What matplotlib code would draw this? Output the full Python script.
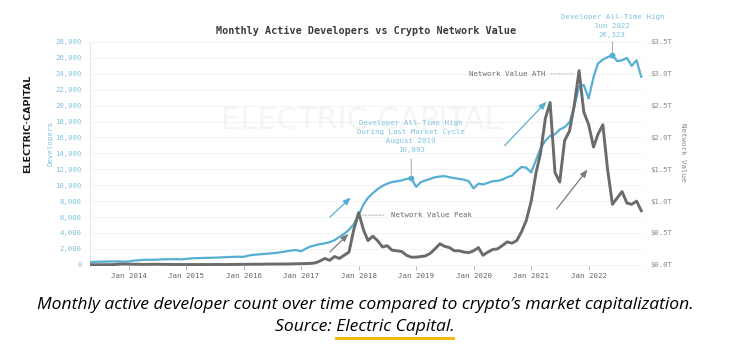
# Monthly active developers vs crypto network value (Electric Capital style)

import matplotlib.pyplot as plt
import pandas as pd

plt.rcParams['font.family'] = 'DejaVu Sans Mono'

# ---- data ----
months = pd.date_range('2013-05-01', '2022-12-01', freq='MS')

developers = [
    350, 380, 380, 400, 420, 420, 430, 400,                                   # 2013 May-Dec
    420, 520, 560, 620, 640, 620, 650, 680, 700, 700, 720, 680,               # 2014
    740, 800, 840, 850, 870, 880, 900, 920, 950, 980, 1000, 1020,             # 2015
    1000, 1150, 1250, 1300, 1350, 1400, 1450, 1520, 1600, 1700, 1800, 1850,   # 2016
    1700, 2050, 2300, 2450, 2600, 2700, 2850, 3100, 3500, 3900, 4400, 5100,   # 2017
    6200, 7600, 8400, 9000, 9500, 9900, 10200, 10400, 10500, 10600, 10800, 10893,  # 2018
    9800, 10400, 10600, 10800, 11000, 11100, 11150, 11000, 10900, 10800, 10700, 10500,  # 2019
    9600, 10200, 10100, 10300, 10500, 10550, 10700, 11000, 11200, 11800, 12300, 12200,  # 2020
    11600, 13200, 14600, 15600, 16200, 16400, 17000, 17300, 17900, 19800, 22400, 22600,  # 2021
    20900, 23600, 25300, 25800, 26100, 26323, 25600, 25700, 26000, 25000, 25700, 23600,  # 2022
]

# total crypto network value, trillions USD
network_value = [
    0.002, 0.002, 0.001, 0.002, 0.002, 0.003, 0.010, 0.012,
    0.011, 0.008, 0.008, 0.006, 0.007, 0.008, 0.008, 0.007, 0.006, 0.005, 0.005, 0.005,
    0.004, 0.004, 0.004, 0.004, 0.004, 0.004, 0.005, 0.005, 0.004, 0.005, 0.006, 0.007,
    0.007, 0.008, 0.009, 0.009, 0.010, 0.012, 0.012, 0.012, 0.012, 0.013, 0.014, 0.016,
    0.018, 0.020, 0.022, 0.030, 0.060, 0.100, 0.070, 0.130, 0.100, 0.150, 0.200, 0.550,
    0.820, 0.550, 0.380, 0.450, 0.380, 0.280, 0.300, 0.230, 0.220, 0.210, 0.150, 0.120,
    0.120, 0.130, 0.140, 0.180, 0.250, 0.330, 0.290, 0.270, 0.220, 0.220, 0.200, 0.190,
    0.220, 0.270, 0.150, 0.200, 0.240, 0.250, 0.300, 0.360, 0.340, 0.380, 0.520, 0.700,
    1.000, 1.450, 1.750, 2.300, 2.550, 1.450, 1.300, 1.950, 2.100, 2.500, 3.050, 2.400,
    2.200, 1.850, 2.050, 2.200, 1.500, 0.950, 1.050, 1.150, 0.970, 0.950, 1.000, 0.850,
]

year_ticks = pd.date_range('2014-01-01', '2022-01-01', freq='YS')
year_labels = ['Jan %d' % d.year for d in year_ticks]
dev_ticks = list(range(0, 28001, 2000))
value_ticks = [0.0, 0.5, 1.0, 1.5, 2.0, 2.5, 3.0, 3.5]

BLUE = '#56aed4'
GREY = '#6b6b6b'
LBLUE = '#7cc3dd'

fig = plt.figure(figsize=(7.3, 3.54), dpi=100)
ax = fig.add_axes([90/730, 1-266/354, (643-90)/730, (266-42)/354])
ax2 = ax.twinx()

# faint watermark behind everything in the plot
ax.text(0.49, 0.65, 'ELECTRIC CAPITAL', transform=ax.transAxes, ha='center', va='center',
        fontsize=22, color='#f5f5f5', family='DejaVu Sans', zorder=0)

ax.plot(months, developers, color=BLUE, lw=1.6, solid_capstyle='round', zorder=3)
ax2.plot(months, network_value, color=GREY, lw=2.1, solid_joinstyle='round', zorder=3)

ax.set_xlim(months[0], pd.Timestamp('2022-12-12'))
ax.set_ylim(-150, 28000)
ax2.set_ylim(-150/8000, 3.5)

ax.set_yticks(dev_ticks)
ax.set_yticklabels(['{:,}'.format(v) for v in dev_ticks])
ax2.set_yticks(value_ticks)
ax2.set_yticklabels(['$%.1fT' % v for v in value_ticks])
ax.set_xticks(year_ticks)
ax.set_xticklabels(year_labels)

ax.tick_params(axis='y', length=0, pad=6, labelsize=5.2, labelcolor=LBLUE)
ax2.tick_params(axis='y', length=0, pad=5, labelsize=5.2, labelcolor='#8a8a8a')
ax.tick_params(axis='x', length=3, width=0.6, color='#aaaaaa', pad=2, labelsize=5.4, labelcolor='#666666')

ax.grid(axis='y', color='#d6dee2', lw=0.6, ls=(0, (1, 1.5)))
for a in (ax, ax2):
    for s in a.spines.values():
        s.set_visible(False)
ax.spines['left'].set_visible(True)
ax.spines['left'].set_color('#e3e3e3')
ax.spines['left'].set_linewidth(0.6)

ax.set_title('Monthly Active Developers vs Crypto Network Value', fontsize=7.3,
             fontweight='bold', color='#3a3a3a', pad=6)

fig.text(50/730, 1-143/354, 'Developers', rotation=90, ha='center', va='center',
         fontsize=5.4, color=LBLUE)
fig.text(683/730, 1-152/354, 'Network Value', rotation=-90, ha='center', va='center',
         fontsize=5.4, color='#8a8a8a')
fig.text(28/730, 1-124/354, 'ELECTRIC\u00b7CAPITAL', rotation=90, ha='center', va='center',
         fontsize=6.8, fontweight='bold', color='#1a1a1a', family='DejaVu Sans')

# ---- annotations ----
ann_font = dict(fontsize=5.3, linespacing=1.6, ha='center', va='bottom', zorder=5)

i_ath = developers.index(max(developers))
ax.plot(months[i_ath], developers[i_ath], 'o', color=BLUE, ms=3.2, zorder=4)
ax.annotate('Developer All-Time High\nJun 2022\n26,323', xy=(months[i_ath], developers[i_ath]),
            xytext=(0, 12.5), textcoords='offset points', color=LBLUE,
            arrowprops=dict(arrowstyle='-', color='#9a9a9a', lw=0.6, shrinkA=1, shrinkB=2.5),
            annotation_clip=False, **ann_font)

i_cyc = developers.index(10893)
ax.plot(months[i_cyc], developers[i_cyc], 'o', color=BLUE, ms=3.2, zorder=4)
ax.annotate('Developer All-Time High\nDuring Last Market Cycle\nAugust 2019\n10,893',
            xy=(months[i_cyc], developers[i_cyc]), xytext=(0, 18), textcoords='offset points',
            color=LBLUE,
            arrowprops=dict(arrowstyle='-', color='#9a9a9a', lw=0.6, shrinkA=2, shrinkB=2.5),
            **ann_font)

ax2.annotate('Network Value ATH', xy=(pd.Timestamp('2021-10-01'), 3.0),
             xytext=(pd.Timestamp('2021-04-01'), 3.0), ha='right', va='center',
             fontsize=5.3, color='#6a6a6a',
             arrowprops=dict(arrowstyle='-', color='#b5b5b5', lw=0.7, ls=':', shrinkA=2, shrinkB=0))
ax2.annotate('Network Value Peak', xy=(pd.Timestamp('2018-01-25'), 0.78),
             xytext=(pd.Timestamp('2018-07-25'), 0.78), ha='left', va='center',
             fontsize=5.3, color='#6a6a6a',
             arrowprops=dict(arrowstyle='-', color='#b5b5b5', lw=0.7, ls=(0, (2, 1.5)), shrinkA=3, shrinkB=0))

# trend arrows
arrows = [
    ('2017-06-20', 5750, '2017-11-25', 8700, BLUE),
    ('2017-06-20', 1375, '2017-11-10', 4125, '#7a7a7a'),
    ('2020-07-05', 14750, '2021-04-20', 20750, BLUE),
    ('2021-06-01', 6750, '2022-01-05', 12250, '#7a7a7a'),
]
for x0, y0, x1, y1, c in arrows:
    ax.annotate('', xy=(pd.Timestamp(x1), y1), xytext=(pd.Timestamp(x0), y0),
                arrowprops=dict(arrowstyle='-|>,head_length=0.45,head_width=0.18', color=c, lw=0.9))

# ---- caption ----
cap = dict(ha='center', va='baseline', fontsize=12.6, style='italic', family='Open Sans', color='black')
fig.text(0.5, 1-309/354,
         'Monthly active developer count over time compared to crypto\u2019s market capitalization.',
         **cap)
src = fig.text(0.5, 1-331/354, 'Source: Electric Capital.', **cap)

# underline "Electric Capital." in yellow
fig.canvas.draw()
rend = fig.canvas.get_renderer()
full = src.get_window_extent(rend)
probe = fig.text(0, 0, 'Source: ', ha='left', va='baseline', fontsize=12.6, style='italic',
                 family='Open Sans')
w_src = probe.get_window_extent(rend).width
probe.remove()
x0 = (full.x0 + w_src) / 730
x1 = (full.x1 - 2) / 730
fig.add_artist(plt.Line2D([x0, x1], [1-338/354, 1-338/354], color='#f4b400', lw=2,
                          transform=fig.transFigure))

fig.savefig('out.png', dpi=100)
